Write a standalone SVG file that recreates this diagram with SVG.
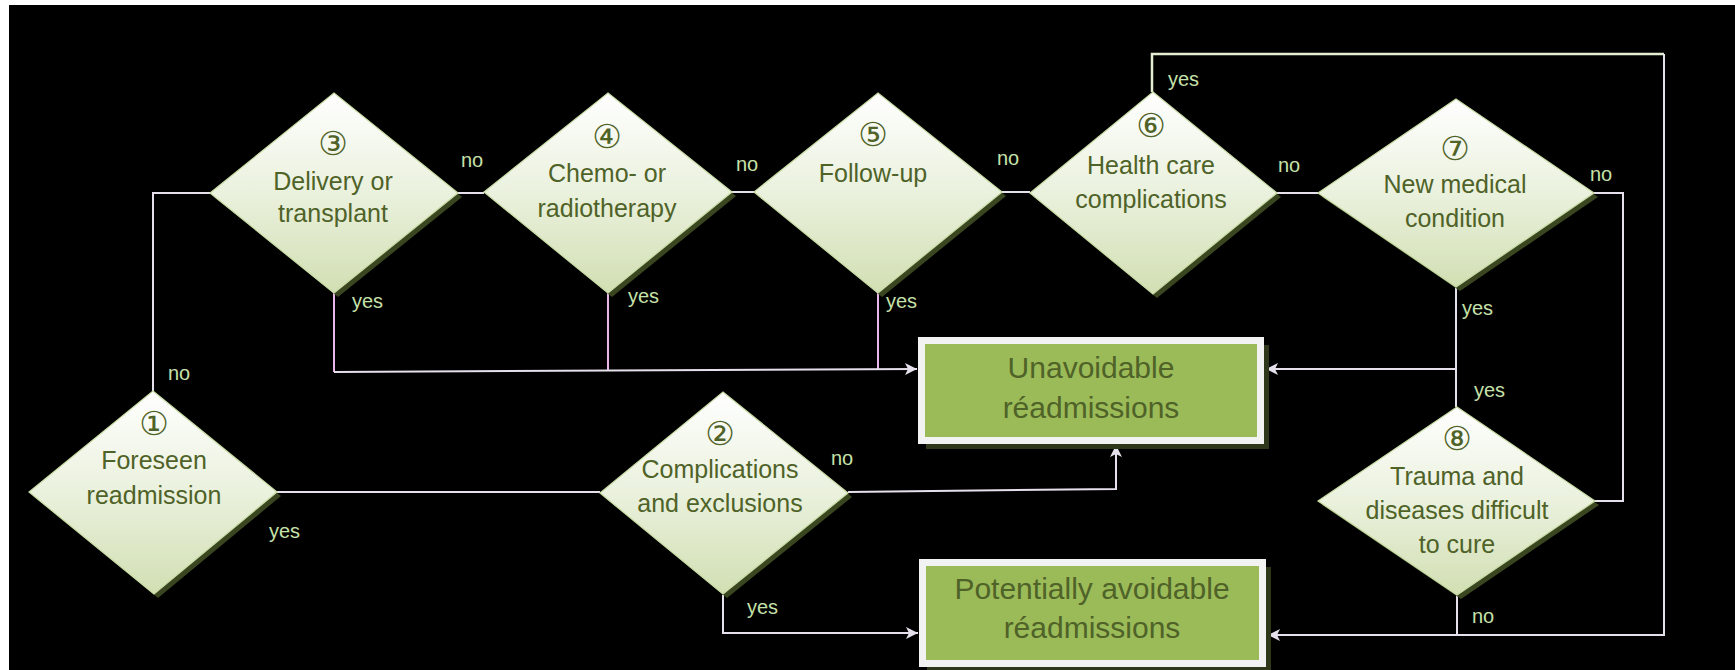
<svg xmlns="http://www.w3.org/2000/svg" width="1735" height="670" viewBox="0 0 1735 670">
<defs>
<linearGradient id="dg" x1="0" y1="0" x2="0" y2="1">
<stop offset="0" stop-color="#FFFFFF"/>
<stop offset="0.5" stop-color="#EAF1DD"/>
<stop offset="1" stop-color="#D2DFB3"/>
</linearGradient>
<marker id="arr" viewBox="0 0 12 12" refX="12" refY="6" markerWidth="12" markerHeight="12" markerUnits="userSpaceOnUse" orient="auto">
<path d="M0,0 L12,6 L0,12 L3,6 z" fill="#E6E0EC"/>
</marker>
</defs>
<style>
.bg{fill:#000}
.dia{fill:url(#dg);stroke:#C9DCA6;stroke-width:1.2}
.sh{fill:#3A4620}
.box{fill:#9BBB59;stroke:#F2F2F2;stroke-width:7}
.bsh{fill:#2E3719}
.t{font-family:"Liberation Sans",Arial,sans-serif;font-size:25px;fill:#4F6228;text-anchor:middle}
.num{font-family:"DejaVu Sans",sans-serif;font-size:33px;fill:#4F6228;text-anchor:middle}
.bt{font-family:"Liberation Sans",Arial,sans-serif;font-size:30px;fill:#4F6228;text-anchor:middle}
.lb{font-family:"Liberation Sans",Arial,sans-serif;font-size:20px;fill:#C6E0A9}
.c{fill:none;stroke:#E6E0EC;stroke-width:2}
.p{fill:none;stroke:#E8B6E8;stroke-width:2}
.g{fill:none;stroke:#E4ECD2;stroke-width:2.5}
</style>
<rect x="0" y="0" width="1735" height="670" fill="#FFFFFF"/>
<rect class="bg" x="9" y="5" width="1726" height="665"/>

<g id="connectors">
<path class="c" d="M153,391 V193 H210"/>
<path class="c" d="M277,492 H600"/>
<path class="c" d="M848,492 L1116,489 V445" marker-end="url(#arr)"/>
<path class="c" d="M723,595 V633 H918" marker-end="url(#arr)"/>
<path class="c" d="M458,193 H484"/>
<path class="c" d="M732,192 H754"/>
<path class="c" d="M1002,192 H1030"/>
<path class="c" d="M1277,193 H1318"/>
<path class="c" d="M1594,193 H1623 V501 H1595"/>
<path class="p" d="M334,293 V372"/>
<path class="p" d="M608,293 V371"/>
<path class="p" d="M878,293 V370"/>
<path class="c" d="M334,372 L917,369" marker-end="url(#arr)"/>
<path class="c" d="M1456,287 V407"/>
<path class="c" d="M1456,369 H1266" marker-end="url(#arr)"/>
<path class="g" d="M1152,92 V54 H1664"/>
<path class="c" d="M1664,54 V635 H1268" marker-end="url(#arr)"/>
<path class="c" d="M1457,595 V635"/>
<text class="lb" x="168" y="380">no</text>
<text class="lb" x="269" y="538">yes</text>
<text class="lb" x="831" y="465">no</text>
<text class="lb" x="747" y="614">yes</text>
<text class="lb" x="461" y="167">no</text>
<text class="lb" x="352" y="308">yes</text>
<text class="lb" x="736" y="171">no</text>
<text class="lb" x="628" y="303">yes</text>
<text class="lb" x="997" y="165">no</text>
<text class="lb" x="886" y="308">yes</text>
<text class="lb" x="1168" y="86">yes</text>
<text class="lb" x="1278" y="172">no</text>
<text class="lb" x="1590" y="181">no</text>
<text class="lb" x="1462" y="315">yes</text>
<text class="lb" x="1474" y="397">yes</text>
<text class="lb" x="1472" y="623">no</text>
</g>

<g id="d1">
<polygon class="sh" points="157,395 281,496 158,598 33,496"/>
<polygon class="dia" points="153,391 277,492 154,594 29,492"/>
<text class="num" x="154" y="435">①</text>
<text class="t" x="154" y="469">Foreseen</text>
<text class="t" x="154" y="504">readmission</text>
</g>

<g id="d2">
<polygon class="sh" points="727,396 852,497 727,598 604,497"/>
<polygon class="dia" points="723,392 848,493 723,594 600,493"/>
<text class="num" x="720" y="445">②</text>
<text class="t" x="720" y="478">Complications</text>
<text class="t" x="720" y="512">and exclusions</text>
</g>

<g id="d3">
<polygon class="sh" points="338,97 462,197 338,297 214,197"/>
<polygon class="dia" points="334,93 458,193 334,293 210,193"/>
<text class="num" x="333" y="155">③</text>
<text class="t" x="333" y="190">Delivery or</text>
<text class="t" x="333" y="222">transplant</text>
</g>

<g id="d4">
<polygon class="sh" points="612,97 736,196 612,297 488,196"/>
<polygon class="dia" points="608,93 732,192 608,293 484,192"/>
<text class="num" x="607" y="148">④</text>
<text class="t" x="607" y="182">Chemo- or</text>
<text class="t" x="607" y="217">radiotherapy</text>
</g>

<g id="d5">
<polygon class="sh" points="882,97 1006,196 882,297 758,196"/>
<polygon class="dia" points="878,93 1002,192 878,293 754,192"/>
<text class="num" x="873" y="146">⑤</text>
<text class="t" x="873" y="182">Follow-up</text>
</g>

<g id="d6">
<polygon class="sh" points="1157,96 1281,197 1157,298 1034,197"/>
<polygon class="dia" points="1153,92 1277,193 1153,294 1030,193"/>
<text class="num" x="1151" y="137">⑥</text>
<text class="t" x="1151" y="174">Health care</text>
<text class="t" x="1151" y="208">complications</text>
</g>

<g id="d7">
<polygon class="sh" points="1460,103 1598,197 1460,291 1322,197"/>
<polygon class="dia" points="1456,99 1594,193 1456,287 1318,193"/>
<text class="num" x="1455" y="160">⑦</text>
<text class="t" x="1455" y="193">New medical</text>
<text class="t" x="1455" y="227">condition</text>
</g>

<g id="d8">
<polygon class="sh" points="1461,411 1599,505 1461,599 1322,505"/>
<polygon class="dia" points="1457,407 1595,501 1457,595 1318,501"/>
<text class="num" x="1457" y="450">⑧</text>
<text class="t" x="1457" y="485">Trauma and</text>
<text class="t" x="1457" y="519">diseases difficult</text>
<text class="t" x="1457" y="553">to cure</text>
</g>

<g id="unavoidable">
<rect class="bsh" x="926" y="345" width="343" height="104"/>
<rect class="box" x="921.5" y="340.5" width="339" height="100"/>
<text class="bt" x="1091" y="378">Unavoidable</text>
<text class="bt" x="1091" y="418">réadmissions</text>
</g>

<g id="potential">
<rect class="bsh" x="927" y="567" width="344" height="103"/>
<rect class="box" x="922.5" y="562.5" width="340" height="101"/>
<text class="bt" x="1092" y="599">Potentially avoidable</text>
<text class="bt" x="1092" y="638">réadmissions</text>
</g>
</svg>
